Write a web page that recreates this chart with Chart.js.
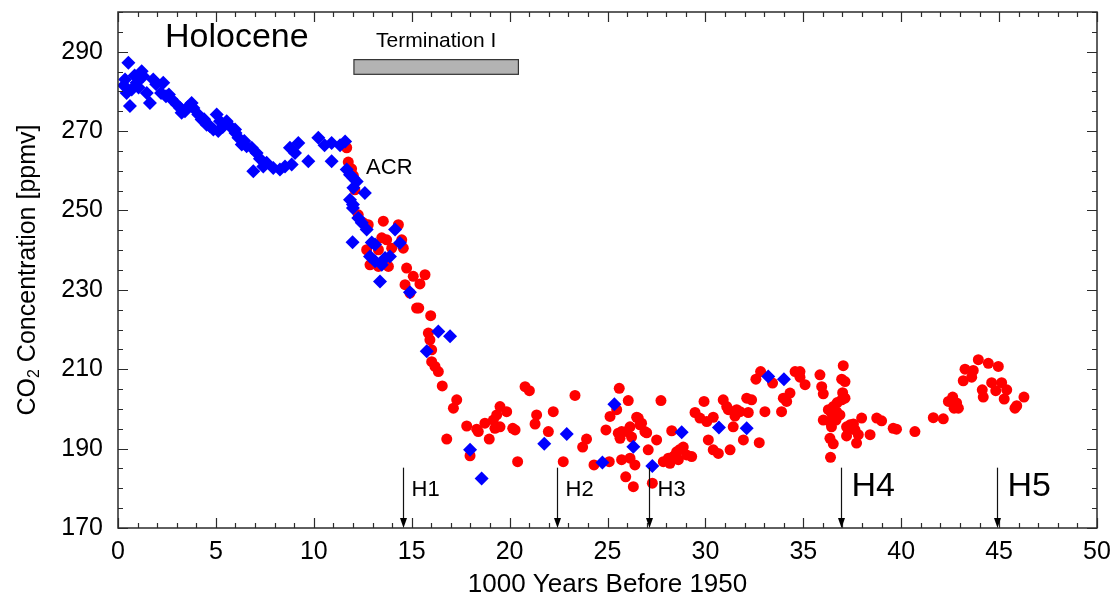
<!DOCTYPE html>
<html>
<head>
<meta charset="utf-8">
<script src="https://cdn.jsdelivr.net/npm/chart.js@4/dist/chart.umd.min.js"></script>
<style>
  html, body { margin: 0; padding: 0; background: #ffffff; }
  #wrap { width: 1114px; height: 603px; }
</style>
</head>
<body>
<div id="wrap"><canvas id="c" width="1114" height="603"></canvas></div>
<script>
// ---- axis ticks ----
const xTickValues = [0, 5, 10, 15, 20, 25, 30, 35, 40, 45, 50];
const yTickValues = [170, 190, 210, 230, 250, 270, 290];

// ---- ice-core CO2 series (age in kyr BP, CO2 in ppmv) ----
// blue diamonds
const diamondAge = [
  0.36, 0.53, 0.61, 0.44, 0.70, 0.95, 1.21, 1.29, 1.47, 1.63, 1.80, 2.20, 2.31, 2.45, 2.74,
  3.00, 3.17, 3.25, 3.42, 3.76, 3.85, 4.10, 4.27, 4.53, 4.70, 4.87, 5.04, 5.12, 5.21, 5.55,
  5.72, 5.98, 6.15, 6.32, 6.57, 6.83, 6.91, 7.08, 7.42, 7.59, 7.93, 8.27, 8.53, 8.78, 8.87,
  9.04, 9.21, 9.72, 10.23, 10.55, 10.91, 10.91, 11.34, 11.60,
  0.30, 0.85, 1.05, 1.95, 2.60, 3.55, 4.40, 5.35, 6.00, 6.45, 7.25,
  11.68, 11.85, 12.02, 12.19, 12.02, 12.61, 11.85, 12.00, 12.00, 12.27, 12.45, 12.70, 11.98,
  12.96, 13.13, 12.87, 13.13, 13.47, 13.64, 13.89, 13.38, 14.15, 14.40, 14.91,
  16.36, 16.96, 15.77, 17.98, 18.57, 21.77, 22.92, 24.74, 25.35, 26.32, 27.29, 28.79,
  30.69, 32.11, 33.21, 34.01
];
const diamondCO2 = [
  283.0, 287.2, 276.3, 279.6, 280.5, 282.2, 285.1, 283.8, 279.6, 277.1, 283.0, 279.6, 282.2, 278.8, 278.0,
  276.7, 275.8, 274.6, 275.0, 277.1, 275.8, 274.2, 272.9, 271.6, 271.2, 270.4, 274.2, 270.0, 272.5, 272.5,
  271.2, 270.4, 268.3, 266.6, 266.2, 265.8, 259.9, 264.5, 261.1, 262.0, 260.7, 260.3, 261.1, 265.8, 261.6,
  264.5, 267.0, 262.4, 268.3, 266.4, 267.0, 262.4, 266.4, 267.4,
  281.5, 284.0, 281.0, 281.8, 279.2, 276.0, 273.0, 271.0, 269.5, 267.5, 263.0,
  260.3, 259.0, 258.2, 257.3, 255.7, 254.4, 252.7, 251.5, 250.6, 248.1, 246.9, 245.2, 242.0,
  241.9, 241.4, 238.4, 237.2, 236.3, 238.0, 238.4, 232.1, 245.2, 241.8, 229.4,
  219.5, 218.3, 214.5, 189.7, 182.5, 191.2, 193.7, 186.5, 201.2, 190.5, 185.6, 194.1,
  195.3, 195.1, 208.2, 207.5
];
// red circles
const circleAge = [
  11.68, 11.76, 11.93, 12.02, 12.10, 12.27, 12.53, 12.78, 13.55, 14.32, 13.47, 13.72, 13.30, 13.98,
  14.49, 14.57, 12.87, 13.30, 13.81, 12.70, 13.04, 14.74, 15.08, 15.68, 14.66, 15.42, 14.91, 15.25,
  15.36, 15.97, 15.85, 15.93, 16.02, 16.02, 16.19, 16.36, 16.56, 17.30, 17.13, 16.79,
  17.81, 17.98, 18.32, 18.40, 18.74, 18.96, 19.17, 19.34, 19.51, 19.85, 19.25, 19.51, 20.16, 20.28,
  20.41, 20.79, 21.01, 21.38, 21.30, 21.98, 22.23, 22.74, 23.34, 23.93, 23.73, 24.31, 25.09, 24.92,
  25.13, 25.47, 25.60, 26.06, 25.72, 25.98, 26.15, 26.57, 26.66, 27.00, 26.23, 25.55, 25.64, 25.72,
  26.15, 26.40, 25.93, 26.32, 27.08, 27.51, 27.29, 27.73, 28.28, 26.49, 26.74, 26.91,
  27.85, 28.11, 28.36, 28.53, 28.70, 28.87, 29.04, 29.30, 28.19, 28.62,
  29.47, 29.72, 29.93, 30.07, 30.40, 30.15, 30.40, 30.66, 30.91, 31.09, 31.17, 31.60, 31.42, 31.26,
  31.77, 31.94, 32.11, 31.51, 32.19, 32.36, 32.75, 33.04, 33.89, 32.58, 32.82, 33.43, 33.98, 34.15,
  34.32, 34.58, 34.83, 34.83, 35.09, 35.85, 35.94, 36.02, 37.04, 36.96, 37.13,
  37.01, 37.13, 36.96, 36.73, 36.53, 36.28, 36.44, 36.70, 36.87, 36.02, 36.36, 36.67, 36.44, 37.21,
  37.39, 37.56, 37.30, 37.64, 37.81, 37.21, 36.36, 36.53, 37.72, 37.98, 38.41, 38.75, 39.00, 39.59,
  39.76, 40.70, 41.64, 42.15, 36.39,
  42.41, 42.63, 42.83, 42.92, 42.70, 43.17, 43.26, 43.60, 43.68, 43.94, 44.45, 44.96, 44.62, 45.13,
  44.14, 44.19, 44.83, 45.39, 45.26, 45.81, 45.90, 46.27
];
const circleCO2 = [
  265.8, 262.2, 260.5, 258.8, 255.2, 248.9, 246.9, 246.4, 247.3, 246.4, 243.1, 242.6, 240.1, 240.5,
  242.6, 240.5, 236.3, 235.9, 235.9, 240.1, 237.2, 235.5, 233.4, 233.8, 231.3, 231.5, 229.2, 225.4,
  225.4, 223.5, 219.1, 217.4, 214.9, 211.9, 210.7, 209.4, 205.8, 202.3, 200.2, 192.4,
  195.7, 188.2, 194.9, 194.3, 196.4, 192.4, 197.2, 198.5, 200.6, 199.3, 195.1, 195.5, 195.1, 194.7,
  186.7, 205.6, 204.6, 198.5, 196.2, 194.3, 199.3, 186.7, 203.4, 192.4, 190.4, 185.9, 186.7, 194.7,
  198.1, 199.8, 205.2, 202.1, 194.3, 194.3, 195.5, 197.7, 196.0, 194.0, 192.9, 193.9, 192.6, 187.2,
  187.6, 185.9, 182.9, 180.4, 189.7, 192.2, 181.3, 202.1, 194.5, 197.9, 196.4, 194.3,
  186.7, 187.6, 188.0, 189.2, 189.8, 190.4, 188.4, 188.0, 186.3, 187.2,
  199.1, 197.7, 201.9, 196.8, 197.9, 192.2, 189.7, 188.8, 202.3, 200.6, 199.8, 199.8, 195.5, 189.7,
  199.3, 192.2, 202.7, 198.2, 199.1, 202.3, 191.5, 199.3, 199.3, 207.5, 209.4, 206.5, 202.7, 201.9,
  204.0, 209.4, 209.4, 208.0, 206.1, 208.6, 205.6, 203.8, 210.9, 207.5, 206.9,
  204.1, 202.7, 202.3, 201.6, 200.6, 199.8, 198.9, 199.3, 198.5, 197.2, 196.8, 197.2, 195.5, 195.5,
  196.0, 196.2, 194.7, 194.7, 193.5, 193.2, 192.6, 191.2, 191.4, 197.7, 193.5, 197.7, 197.0, 195.1,
  194.9, 194.3, 197.8, 197.5, 187.8,
  201.9, 203.0, 201.5, 200.2, 200.2, 207.1, 210.0, 208.0, 209.7, 212.4, 211.5, 210.7, 206.6, 206.6,
  204.8, 203.0, 204.6, 204.8, 202.5, 200.2, 200.8, 203.0
];

// ---- annotations ----
const heinrichLabels = ['H1', 'H2', 'H3', 'H4', 'H5'];
const heinrichAges = [14.56, 22.42, 27.12, 36.93, 44.9];
const terminationSpan = [12.05, 20.45];   // kyr BP
const terminationBand = [284.3, 288.0];   // ppmv extent of the bar

const FONT = '"Liberation Sans", Arial, Helvetica, sans-serif';
const INK = '#000000';
const FRAME = '#2b2b2b';

function toPoints(xs, ys) { return xs.map((x, i) => ({ x: x, y: ys[i] })); }

// Frame, inward ticks on all four sides, axis titles and text annotations
const decorations = {
  id: 'decorations',
  afterDatasetsDraw(chart) {
    const { ctx, chartArea: a, scales: { x, y } } = chart;
    ctx.save();

    // frame
    ctx.strokeStyle = FRAME;
    ctx.lineWidth = 1.5;
    ctx.strokeRect(a.left, a.top, a.right - a.left, a.bottom - a.top);

    // x ticks: minor every 1, major every 5
    ctx.lineWidth = 1.2;
    ctx.beginPath();
    for (let v = x.min; v <= x.max; v += 1) {
      const px = Math.round(x.getPixelForValue(v)) + 0.5;
      const len = (v % 5 === 0) ? 10 : 5;
      ctx.moveTo(px, a.bottom); ctx.lineTo(px, a.bottom - len);
      ctx.moveTo(px, a.top); ctx.lineTo(px, a.top + len);
    }
    // y ticks: minor every 5, major every 20 from 170
    for (let v = y.min; v <= y.max; v += 5) {
      const py = Math.round(y.getPixelForValue(v)) + 0.5;
      const len = ((v - 170) % 20 === 0) ? 10 : 5;
      ctx.moveTo(a.left, py); ctx.lineTo(a.left + len, py);
      ctx.moveTo(a.right, py); ctx.lineTo(a.right - len, py);
    }
    ctx.stroke();

    // x axis title
    ctx.fillStyle = INK;
    ctx.font = '26px ' + FONT;
    ctx.textAlign = 'center';
    ctx.textBaseline = 'middle';
    ctx.fillText('1000 Years Before 1950', (a.left + a.right) / 2, 585);

    // y axis title with subscript
    ctx.save();
    ctx.translate(28, (a.top + a.bottom) / 2);
    ctx.rotate(-Math.PI / 2);
    const big = '25px ' + FONT, small = '16px ' + FONT;
    ctx.font = big; const w1 = ctx.measureText('CO').width;
    const w3 = ctx.measureText(' Concentration [ppmv]').width;
    ctx.font = small; const w2 = ctx.measureText('2').width;
    let sx = -(w1 + w2 + w3) / 2;
    ctx.textAlign = 'left';
    ctx.font = big; ctx.fillText('CO', sx, 0); sx += w1;
    ctx.font = small; ctx.fillText('2', sx, 7); sx += w2;
    ctx.font = big; ctx.fillText(' Concentration [ppmv]', sx, 0);
    ctx.restore();

    // Holocene label
    ctx.textAlign = 'left';
    ctx.textBaseline = 'middle';
    ctx.font = '34px ' + FONT;
    ctx.fillText('Holocene', x.getPixelForValue(2.4), y.getPixelForValue(293.6));

    // Termination I bar and label
    const bx0 = x.getPixelForValue(terminationSpan[0]);
    const bx1 = x.getPixelForValue(terminationSpan[1]);
    const by0 = y.getPixelForValue(terminationBand[1]);
    const by1 = y.getPixelForValue(terminationBand[0]);
    ctx.fillStyle = '#b3b3b3';
    ctx.fillRect(bx0, by0, bx1 - bx0, by1 - by0);
    ctx.strokeStyle = '#333333';
    ctx.lineWidth = 1.2;
    ctx.strokeRect(bx0, by0, bx1 - bx0, by1 - by0);
    ctx.fillStyle = INK;
    ctx.font = '21px ' + FONT;
    ctx.textAlign = 'center';
    ctx.fillText('Termination I', (bx0 + bx1) / 2, y.getPixelForValue(292.6));

    // ACR label
    ctx.textAlign = 'left';
    ctx.font = '22px ' + FONT;
    ctx.fillText('ACR', x.getPixelForValue(12.67), y.getPixelForValue(260.8));

    // Heinrich event arrows
    heinrichLabels.forEach((lab, i) => {
      const px = Math.round(x.getPixelForValue(heinrichAges[i])) + 0.5;
      const top = y.getPixelForValue(185.2);
      const bot = a.bottom;
      ctx.strokeStyle = '#111111';
      ctx.lineWidth = 1.2;
      ctx.beginPath();
      ctx.moveTo(px, top); ctx.lineTo(px, bot - 8);
      ctx.stroke();
      ctx.fillStyle = '#000000';
      ctx.beginPath();
      ctx.moveTo(px - 3.5, bot - 10);
      ctx.lineTo(px + 3.5, bot - 10);
      ctx.lineTo(px, bot);
      ctx.closePath();
      ctx.fill();
      const large = i >= 3;
      ctx.font = (large ? '34px ' : '22px ') + FONT;
      ctx.textAlign = 'left';
      ctx.textBaseline = 'middle';
      ctx.fillText(lab, px + (large ? 10 : 8), y.getPixelForValue(large ? 180.5 : 179.5));
    });

    ctx.restore();
  }
};

new Chart(document.getElementById('c').getContext('2d'), {
  type: 'scatter',
  data: {
    datasets: [
      {
        data: toPoints(diamondAge, diamondCO2),
        pointStyle: 'rectRot',
        pointRadius: 7,
        pointHoverRadius: 7,
        backgroundColor: '#0000ff',
        borderColor: '#0000ff',
        borderWidth: 0
      },
      {
        data: toPoints(circleAge, circleCO2),
        pointStyle: 'circle',
        pointRadius: 5.5,
        pointHoverRadius: 5.5,
        backgroundColor: '#ff0000',
        borderColor: '#ff0000',
        borderWidth: 0
      }
    ]
  },
  options: {
    responsive: false,
    devicePixelRatio: 1,
    animation: false,
    events: [],
    layout: { padding: { left: 0, right: 17, top: 12, bottom: 0 } },
    plugins: { legend: { display: false }, tooltip: { enabled: false } },
    scales: {
      x: {
        type: 'linear',
        min: 0, max: 50,
        afterBuildTicks: s => { s.ticks = xTickValues.map(v => ({ value: v })); },
        afterFit: s => { s.height = 75; s.paddingLeft = 0; s.paddingRight = 0; },
        grid: { display: false, drawTicks: false },
        border: { display: false },
        ticks: { color: INK, font: { family: FONT, size: 25 }, padding: 9, maxRotation: 0, autoSkip: false }
      },
      y: {
        type: 'linear',
        min: 170, max: 300,
        afterBuildTicks: s => { s.ticks = yTickValues.map(v => ({ value: v })); },
        afterFit: s => { s.width = 118; s.paddingTop = 0; s.paddingBottom = 0; },
        grid: { display: false, drawTicks: false },
        border: { display: false },
        ticks: { color: INK, font: { family: FONT, size: 25 }, padding: 15, autoSkip: false }
      }
    }
  },
  plugins: [decorations]
});
</script>
</body>
</html>
